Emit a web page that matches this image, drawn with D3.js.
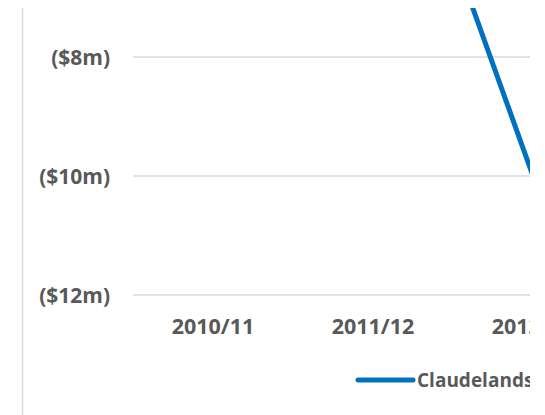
<!DOCTYPE html>
<html>
<head>
<meta charset="utf-8">
<script src="https://cdn.jsdelivr.net/npm/d3@7"></script>
<style>
  body { margin: 0; background: #fff; }
  text { font-family: "Open Sans", sans-serif; font-weight: bold; fill: #595959; }
</style>
</head>
<body>
<div class="chart-wrapper"></div>
<script>
const years = ['2010/11', '2011/12', '2012/13']
const claudelands = [-1.2, -2.5, -10.0]
const yTicks = [-12, -10, -8]
const seriesName = 'Claudelands'

const width = 545, height = 415

const svg = d3.select('.chart-wrapper')
.append('svg')
.attr('width', width)
.attr('height', height)

// the chart is only partly visible, cut at right and top
svg.append('clipPath')
.attr('id', 'crop')
.append('rect')
.attr('x', 0)
.attr('y', 8)
.attr('width', 530)
.attr('height', height - 8)

const chart = svg.append('g').attr('clip-path', 'url(#crop)')

const x = d3.scaleBand()
.domain(years)
.range([133, 133 + 160 * years.length])

const y = d3.scaleLinear()
.domain([-12, -8])
.range([295, 57])

// chart border (left edge)
chart.append('line')
.attr('x1', 22.5).attr('x2', 22.5)
.attr('y1', 0).attr('y2', height)
.attr('stroke', '#d9d9d9')
.attr('stroke-width', 1.5)

const yAxis = chart.append('g')
.call(d3.axisLeft(y)
    .tickValues(yTicks)
    .tickSize(0)
    .tickFormat(d => `($${Math.abs(d)}m)`))

yAxis.select('.domain').remove()
yAxis.selectAll('text')
.attr('x', 110)
.attr('dy', '0.36em')
.style('font-size', '21px')

chart.append('g')
.selectAll('line')
.data(yTicks)
.enter()
.append('line')
.attr('x1', x.range()[0])
.attr('x2', x.range()[1])
.attr('y1', d => y(d))
.attr('y2', d => y(d))
.attr('stroke', '#d9d9d9')
.attr('stroke-width', 1.5)

const xAxis = chart.append('g')
.attr('transform', `translate(0,${y(-12)})`)
.call(d3.axisBottom(x).tickSize(0).tickPadding(0))

xAxis.select('.domain').remove()
xAxis.selectAll('text')
.attr('y', 39)
.attr('dy', 0)
.style('font-size', '21.5px')

const line = d3.line()
.x((d, i) => x(years[i]) + x.bandwidth() / 2)
.y(d => y(d))

chart.append('path')
.datum(claudelands)
.attr('d', line)
.attr('fill', 'none')
.attr('stroke', '#0070c0')
.attr('stroke-width', 5)
.attr('stroke-linejoin', 'round')

const legend = chart.append('g')
.attr('transform', 'translate(358,380)')

legend.append('line')
.attr('x1', 0).attr('x2', 55)
.attr('stroke', '#0070c0')
.attr('stroke-width', 5)
.attr('stroke-linecap', 'round')

legend.append('text')
.attr('x', 59)
.attr('y', 7)
.style('font-size', '19px')
.text(seriesName)
</script>
</body>
</html>
